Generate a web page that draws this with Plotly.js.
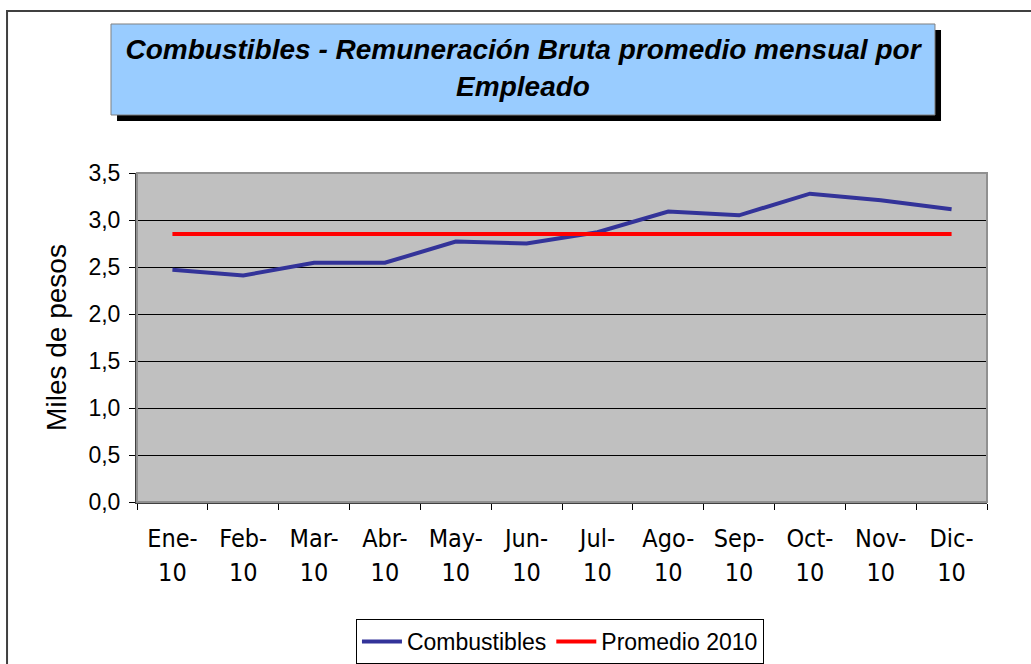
<!DOCTYPE html>
<html>
<head>
<meta charset="utf-8">
<script src="https://cdn.plot.ly/plotly-3.0.1.min.js"></script>
<style>html,body{margin:0;padding:0;background:#fff;}#chart{width:1031px;height:664px;}</style>
</head>
<body>
<div id="chart"></div>
<script>
const months = ['Ene-', 'Feb-', 'Mar-', 'Abr-', 'May-', 'Jun-', 'Jul-', 'Ago-', 'Sep-', 'Oct-', 'Nov-', 'Dic-'];
const years = ['10', '10', '10', '10', '10', '10', '10', '10', '10', '10', '10', '10'];
const combustibles = [2.47, 2.41, 2.545, 2.545, 2.77, 2.75, 2.87, 3.09, 3.05, 3.28, 3.21, 3.115];
const promedio2010 = [2.85, 2.85, 2.85, 2.85, 2.85, 2.85, 2.85, 2.85, 2.85, 2.85, 2.85, 2.85];
const yTicks = [0, 0.5, 1, 1.5, 2, 2.5, 3, 3.5];

const categories = months.map((m, i) => m + years[i]);

const font = 'Arial, "Liberation Sans", sans-serif';
const narrowFont = '"Liberation Sans Narrow", "Arial Narrow", "DejaVu Sans Condensed", Arial, sans-serif';

const traces = [
  {x: categories, y: combustibles, name: 'Combustibles', type: 'scatter', mode: 'lines',
   line: {color: '#333399', width: 4}, xaxis: 'x', yaxis: 'y'},
  {x: categories, y: promedio2010, name: 'Promedio 2010', type: 'scatter', mode: 'lines',
   line: {color: '#FF0000', width: 4}, xaxis: 'x2', yaxis: 'y'}
];

const layout = {
  width: 1031, height: 664,
  margin: {l: 137, r: 44, t: 173, b: 162, autoexpand: false},
  paper_bgcolor: '#FFFFFF',
  plot_bgcolor: '#C0C0C0',
  separators: ',.',
  font: {family: font, color: '#000'},
  showlegend: true,
  title: {
    text: '<b><i>Combustibles - Remuneración Bruta promedio mensual por<br>Empleado</i></b>',
    font: {family: font, size: 28, color: '#000'},
    x: 0.5073, xref: 'container', xanchor: 'center',
    y: 0.9104, yref: 'container', yanchor: 'middle'
  },
  xaxis: {
    type: 'category', range: [-0.5, 11.5],
    tickmode: 'array', tickvals: categories, ticktext: months,
    tickson: 'boundaries', ticks: 'outside', ticklen: 6, tickcolor: '#000', tickwidth: 1,
    showgrid: false, showline: true, linecolor: '#404040', linewidth: 2,
    tickfont: {family: narrowFont, size: 25, color: '#000'},
    ticklabelstandoff: 13
  },
  xaxis2: {
    type: 'category', range: [-0.5, 11.5], overlaying: 'x', anchor: 'y', side: 'bottom',
    tickmode: 'array', tickvals: categories, ticktext: years,
    ticks: '', showgrid: false, showline: false, zeroline: false,
    tickfont: {family: narrowFont, size: 25, color: '#000'},
    ticklabelstandoff: 53
  },
  yaxis: {
    range: [0, 3.5], tickmode: 'array', tickvals: yTicks, tickformat: '.1f',
    ticks: 'outside', ticklen: 6, tickcolor: '#000', tickwidth: 1,
    showgrid: true, gridcolor: '#000', gridwidth: 1, zeroline: false,
    showline: true, linecolor: '#404040', linewidth: 2,
    tickfont: {family: font, size: 23, color: '#000'},
    ticklabelstandoff: 4,
    title: {text: 'Miles de pesos', font: {family: font, size: 28, color: '#000'}, standoff: 14}
  },
  legend: {
    orientation: 'h', x: 0.4976, xanchor: 'center', y: -0.3556, yanchor: 'top',
    bgcolor: '#FFFFFF', bordercolor: '#000', borderwidth: 1,
    font: {family: font, size: 23, color: '#000'},
    itemwidth: 40, tracegroupgap: 0
  },
  shapes: [
    {type: 'rect', xref: 'paper', yref: 'paper', x0: -0.1529, x1: 1.0624, y0: 1.4924, y1: -0.541,
     line: {color: '#404040', width: 2}, fillcolor: 'rgba(0,0,0,0)', layer: 'below'},
    {type: 'rect', xref: 'paper', yref: 'paper', x0: -0.0235, x1: 0.9459, y0: 1.4347, y1: 1.1581,
     line: {width: 0}, fillcolor: '#000000', layer: 'below'},
    {type: 'rect', xref: 'paper', yref: 'paper', x0: -0.0306, x1: 0.9388, y0: 1.4529, y1: 1.1763,
     line: {color: '#808080', width: 1}, fillcolor: '#99CCFF', layer: 'below'},
    {type: 'rect', xref: 'paper', yref: 'paper', x0: 0, x1: 1, y0: 0, y1: 1,
     line: {color: '#909090', width: 2}, fillcolor: 'rgba(0,0,0,0)', layer: 'above'}
  ]
};

Plotly.newPlot('chart', traces, layout, {displayModeBar: false, responsive: false});
</script>
</body>
</html>
